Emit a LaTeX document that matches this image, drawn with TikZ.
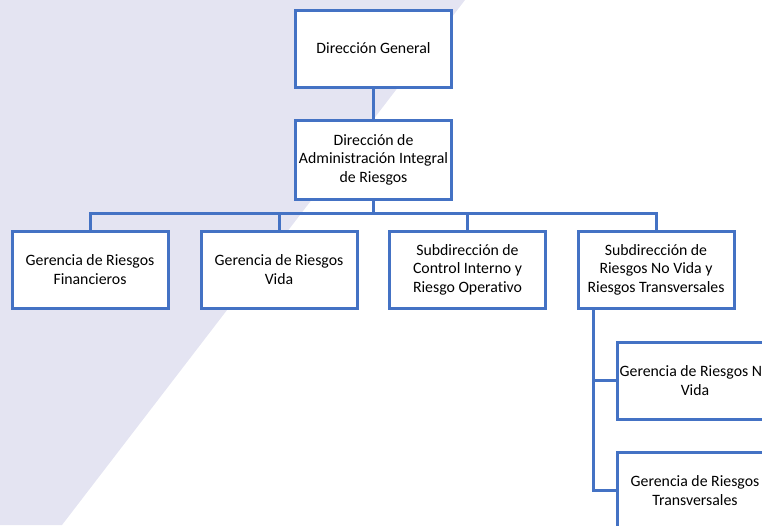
\documentclass[tikz,border=0pt]{standalone}
\usepackage{fontspec}
\setmainfont{Carlito}[Ligatures={NoCommon}]
\definecolor{boxblue}{HTML}{4472C4}
\definecolor{lav}{HTML}{E4E4F2}
\begin{document}
\begin{tikzpicture}[x=1pt,y=-1pt,
  orgbox/.style={draw=boxblue, line width=3pt, fill=white, rectangle,
    minimum width=156pt, minimum height=77pt, inner sep=0pt, align=center,
    font=\fontsize{15.8}{18.4}\selectfont},
  link/.style={draw=boxblue, line width=3pt}]
\clip (0,0) rectangle (762,525);
\fill[lav] (0,0) -- (465,0) -- (62,525) -- (0,525) -- cycle;
\node[orgbox] (dg) at (373.5,48.5) {Dirección General};
\node[orgbox, minimum height=79pt] (dair) at (373.5,159.5) {Dirección de\\Administración Integral\\de Riesgos};
\node[orgbox] (gf) at (90,269.5) {Gerencia de Riesgos\\Financieros};
\node[orgbox] (gv) at (279,269.5) {Gerencia de Riesgos\\Vida};
\node[orgbox] (sci) at (467.5,269.5) {Subdirección de\\Control Interno y\\Riesgo Operativo};
\node[orgbox] (snv) at (656,269.5) {Subdirección de\\Riesgos No Vida y\\Riesgos Transversales};
\node[orgbox] (gnv) at (695,380.5) {Gerencia de Riesgos No\\Vida};
\node[orgbox] (gt) at (695,490.5) {Gerencia de Riesgos\\Transversales};
\coordinate (bus) at (373.5,213);
\coordinate (trunk) at (593,308);
\draw[link] (dg.south) -- (dair.north);
\draw[link] (dair.south) -- (bus) -| (gf.north);
\draw[link] (bus) -| (gv.north);
\draw[link] (bus) -| (sci.north);
\draw[link] (bus) -| (snv.north);
\draw[link] (trunk) |- (gnv.west);
\draw[link] (trunk) |- (gt.west);
\end{tikzpicture}
\end{document}
